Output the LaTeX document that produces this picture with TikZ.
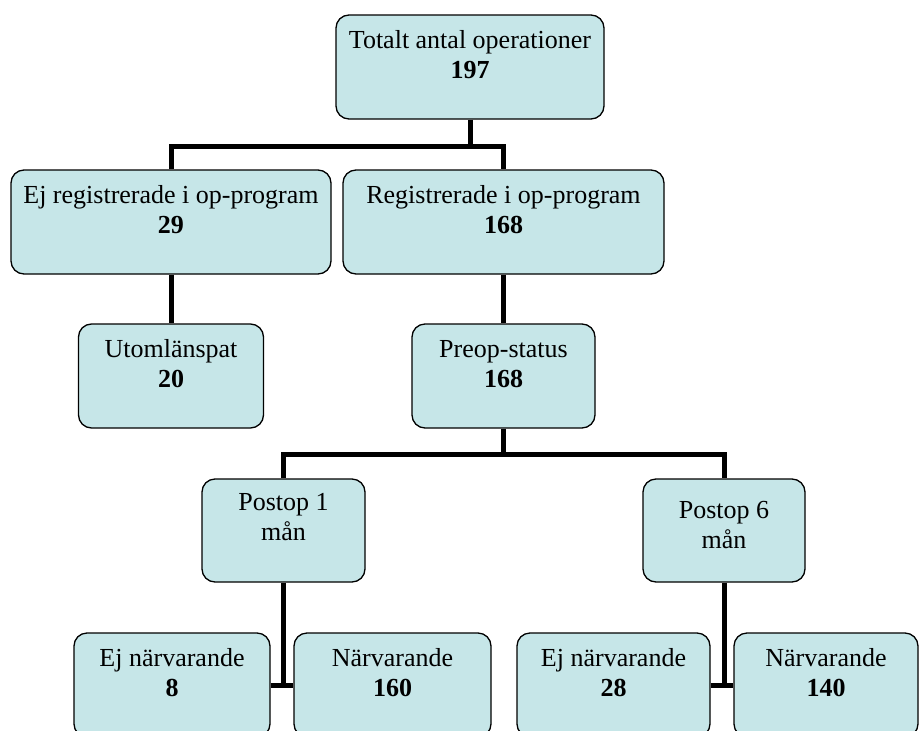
\documentclass[tikz,border=0pt]{standalone}
\usepackage{fontspec}
\setmainfont{Liberation Serif}
\definecolor{boxfill}{RGB}{198,230,232}
\newcommand{\flowtext}[2]{\begin{tabular}[t]{@{}c@{}}#1\\#2\end{tabular}}
\begin{document}
\begin{tikzpicture}[x=1pt,y=-1pt,
    font=\fontsize{26}{30}\selectfont,
    flowbox/.style={draw=black,line width=1.3pt,fill=boxfill,rounded corners=13pt,
      inner sep=0pt,minimum height=104pt,text height=33pt,text depth=71pt},
    conn/.style={line width=5pt,line join=miter}]
  \clip (0,0) rectangle (919,731);
  \draw
    (470,67) node[flowbox,minimum width=268pt] (tot){\flowtext{Totalt antal operationer}{\textbf{197}}}
    (171,222) node[flowbox,minimum width=320pt] (ejreg){\flowtext{Ej registrerade i op-program}{\textbf{29}}}
    (503.5,222) node[flowbox,minimum width=321pt] (reg){\flowtext{Registrerade i op-program}{\textbf{168}}}
    (171,376) node[flowbox,minimum width=185pt] (utom){\flowtext{Utomlänspat}{\textbf{20}}}
    (503.5,376) node[flowbox,minimum width=183pt] (preop){\flowtext{Preop-status}{\textbf{168}}}
    (283.5,530.5) node[flowbox,minimum width=163pt,minimum height=103pt,text height=31pt,text depth=72pt] (post1){\flowtext{Postop 1}{mån}}
    (724,530.5) node[flowbox,minimum width=162pt,minimum height=103pt,text height=39pt,text depth=64pt] (post6){\flowtext{Postop 6}{mån}}
    (172,685) node[flowbox,minimum width=196pt] (ej1){\flowtext{Ej närvarande}{\textbf{8}}}
    (392.5,685) node[flowbox,minimum width=197pt] (narv1){\flowtext{Närvarande}{\textbf{160}}}
    (613.5,685) node[flowbox,minimum width=193pt] (ej6){\flowtext{Ej närvarande}{\textbf{28}}}
    (826,685) node[flowbox,minimum width=184pt] (narv6){\flowtext{Närvarande}{\textbf{140}}};
  \begin{scope}[conn]
    \draw (tot.south) -- ++(0,28);
    \draw (ejreg.north) -- ++(0,-23) -| (reg.north);
    \draw (ejreg.south) -- (utom.north);
    \draw (reg.south) -- (preop.north);
    \draw (preop.south) -- ++(0,27);
    \draw (post1.north) -- ++(0,-24) -| (post6.north);
    \draw (post1.south) -- (post1.south |- ej1.east);
    \draw (ej1.east) -- (narv1.west);
    \draw (post6.south) -- (post6.south |- ej6.east);
    \draw (ej6.east) -- (narv6.west);
  \end{scope}
\end{tikzpicture}
\end{document}
